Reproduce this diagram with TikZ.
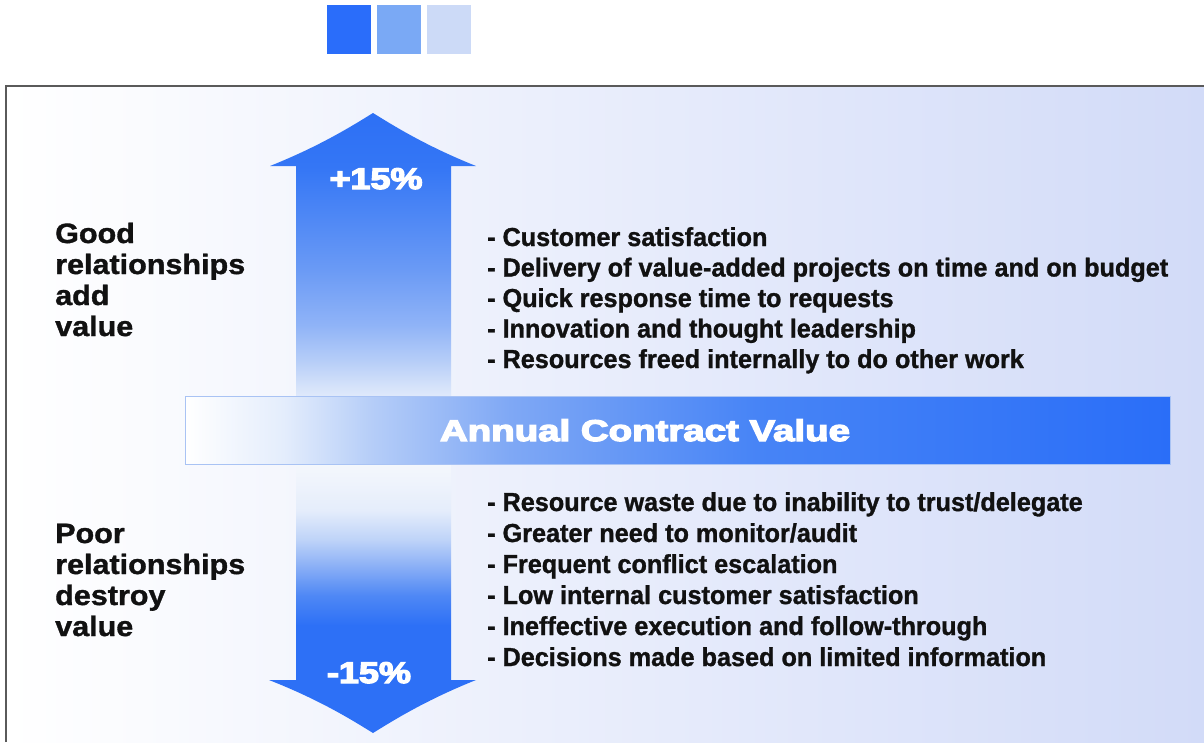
\documentclass[tikz,border=0pt]{standalone}
\usepackage{fontspec}
\setmainfont{Liberation Sans}
\newfontfamily\heavyfont[FakeBold=4]{Liberation Sans Bold}
\newfontfamily\boldfont[FakeBold=1.2]{Liberation Sans Bold}
\usepackage{graphicx}
\definecolor{bgR}{HTML}{D2DBF8}
\definecolor{framegray}{HTML}{5A5A5A}
\definecolor{sqA}{HTML}{2A6DFA}
\definecolor{sqB}{HTML}{7AA9F5}
\definecolor{sqC}{HTML}{CCDAF7}
\definecolor{barEdge}{HTML}{A9C3F4}
\definecolor{txt}{HTML}{111111}
% up arrow stops
\definecolor{uA}{HTML}{2D70F5}
\definecolor{uB}{HTML}{3476F5}
\definecolor{uC}{HTML}{6A9AF5}
\definecolor{uD}{HTML}{8FB3F7}
\definecolor{uE}{HTML}{B7CEF8}
\definecolor{uF}{HTML}{D6E3FA}
\definecolor{uG}{HTML}{DFE9FB}
% down arrow stops
\definecolor{dA}{HTML}{F4F7FC}
\definecolor{dB}{HTML}{F1F5FC}
\definecolor{dC}{HTML}{E5EDFB}
\definecolor{dD}{HTML}{BED3F8}
\definecolor{dE}{HTML}{8DB1F6}
\definecolor{dF}{HTML}{4F88F5}
\definecolor{dG}{HTML}{2D70F6}
% bar stops
\definecolor{bA}{HTML}{FFFFFF}
\definecolor{bB}{HTML}{E4EDFC}
\definecolor{bC}{HTML}{B5CDF8}
\definecolor{bD}{HTML}{7FA8F5}
\definecolor{bE}{HTML}{4784F6}
\definecolor{bF}{HTML}{2A6EF8}
\pgfdeclareverticalshading{upshade}{100bp}{color(0bp)=(uG); color(25bp)=(uG); color(26.6bp)=(uF); color(31.1bp)=(uE); color(37.6bp)=(uD); color(47.4bp)=(uC); color(65.5bp)=(uB); color(75bp)=(uA); color(100bp)=(uA)}
\pgfdeclareverticalshading{downshade}{100bp}{color(0bp)=(dG); color(45bp)=(dG); color(50.6bp)=(dF); color(56.2bp)=(dE); color(60.9bp)=(dD); color(66.4bp)=(dC); color(73bp)=(dB); color(75bp)=(dA); color(100bp)=(dA)}
\pgfdeclarehorizontalshading{barshade}{100bp}{color(0bp)=(bA); color(25bp)=(bA); color(30bp)=(bB); color(34.5bp)=(bC); color(41.5bp)=(bD); color(54bp)=(bE); color(75bp)=(bF); color(100bp)=(bF)}
\newlength\wref
\tikzset{
  rtxt/.style={anchor=base west, inner sep=0pt, text=txt, font=\fontsize{26}{30}\selectfont\boldfont},
  ltxt/.style={anchor=base west, inner sep=0pt, text=txt, font=\fontsize{28}{31}\selectfont\boldfont},
  wtxt/.style={anchor=base, inner sep=0pt, text=white, font=\fontsize{30}{36}\selectfont\heavyfont},
  sqbox/.style={draw=none, minimum width=44pt, minimum height=49pt, inner sep=0pt, anchor=north west},
}
\begin{document}
\settowidth\wref{\fontsize{26}{30}\selectfont\boldfont - Delivery of value-added projects on time and on budget}%
\pgfmathsetmacro\rs{681/\wref}%
\settowidth\wref{\fontsize{28}{31}\selectfont\boldfont relationships}%
\pgfmathsetmacro\ls{190/\wref}%
\settowidth\wref{\fontsize{30}{36}\selectfont\heavyfont Annual Contract Value}%
\pgfmathsetmacro\as{410/\wref}%
\settowidth\wref{\fontsize{30}{36}\selectfont\heavyfont +15\%}%
\pgfmathsetmacro\ps{93/\wref}%
\begin{tikzpicture}[x=1pt,y=-1pt]
\useasboundingbox (0,0) rectangle (1204,742);
\fill[white] (0,0) rectangle (1204,742);
% background panel
\shade[left color=white, right color=bgR] (6,86) rectangle (1204,742);
\draw[line width=2pt, framegray] (6,742) -- (6,86) -- (1204,86);
% top squares
\node[sqbox, fill=sqA] (s1) at (327,5) {};
\node[sqbox, fill=sqB] (s2) at (377,5) {};
\node[sqbox, fill=sqC] (s3) at (427,5) {};
% up arrow
\shade[shading=upshade]
  (296,396) -- (296,166) -- (270,166)
  .. controls (320,146) and (352,126) .. (373,113)
  .. controls (394,126) and (426,146) .. (476,166)
  -- (451,166) -- (451,396) -- cycle;
% down arrow
\shade[shading=downshade]
  (296,464) -- (296,680) -- (269,680)
  .. controls (320,700) and (352,720) .. (373,733)
  .. controls (394,720) and (426,700) .. (476,680)
  -- (451,680) -- (451,464) -- cycle;
% bar
\shade[shading=barshade] (185,396) rectangle (1170,464);
\draw[barEdge, line width=0.8pt] (185,396) rectangle (1170,464);
\node[wtxt] (acv) at (645,441) {\scalebox{\as}[1]{Annual Contract Value}};
\node[wtxt] (plus) at (376,189) {\scalebox{\ps}[1]{+15\%}};
\node[wtxt] (minus) at (369,683) {\scalebox{\ps}[1]{-15\%}};
% left labels
\node[ltxt] (g1) at (55,243) {\scalebox{\ls}[1]{Good}};
\node[ltxt] (g2) at (55,274) {\scalebox{\ls}[1]{relationships}};
\node[ltxt] (g3) at (55,305) {\scalebox{\ls}[1]{add}};
\node[ltxt] (g4) at (55,336) {\scalebox{\ls}[1]{value}};
\node[ltxt] (p1) at (55,543) {\scalebox{\ls}[1]{Poor}};
\node[ltxt] (p2) at (55,574) {\scalebox{\ls}[1]{relationships}};
\node[ltxt] (p3) at (55,605) {\scalebox{\ls}[1]{destroy}};
\node[ltxt] (p4) at (55,636) {\scalebox{\ls}[1]{value}};
% upper bullets
\node[rtxt] (u1) at (487,246) {\scalebox{\rs}[1]{- Customer satisfaction}};
\node[rtxt] (u2) at (487,276.5) {\scalebox{\rs}[1]{- Delivery of value-added projects on time and on budget}};
\node[rtxt] (u3) at (487,307) {\scalebox{\rs}[1]{- Quick response time to requests}};
\node[rtxt] (u4) at (487,337.5) {\scalebox{\rs}[1]{- Innovation and thought leadership}};
\node[rtxt] (u5) at (487,368) {\scalebox{\rs}[1]{- Resources freed internally to do other work}};
% lower bullets
\node[rtxt] (d1) at (487,511) {\scalebox{\rs}[1]{- Resource waste due to inability to trust/delegate}};
\node[rtxt] (d2) at (487,542) {\scalebox{\rs}[1]{- Greater need to monitor/audit}};
\node[rtxt] (d3) at (487,573) {\scalebox{\rs}[1]{- Frequent conflict escalation}};
\node[rtxt] (d4) at (487,604) {\scalebox{\rs}[1]{- Low internal customer satisfaction}};
\node[rtxt] (d5) at (487,635) {\scalebox{\rs}[1]{- Ineffective execution and follow-through}};
\node[rtxt] (d6) at (487,666) {\scalebox{\rs}[1]{- Decisions made based on limited information}};
\end{tikzpicture}
\end{document}
